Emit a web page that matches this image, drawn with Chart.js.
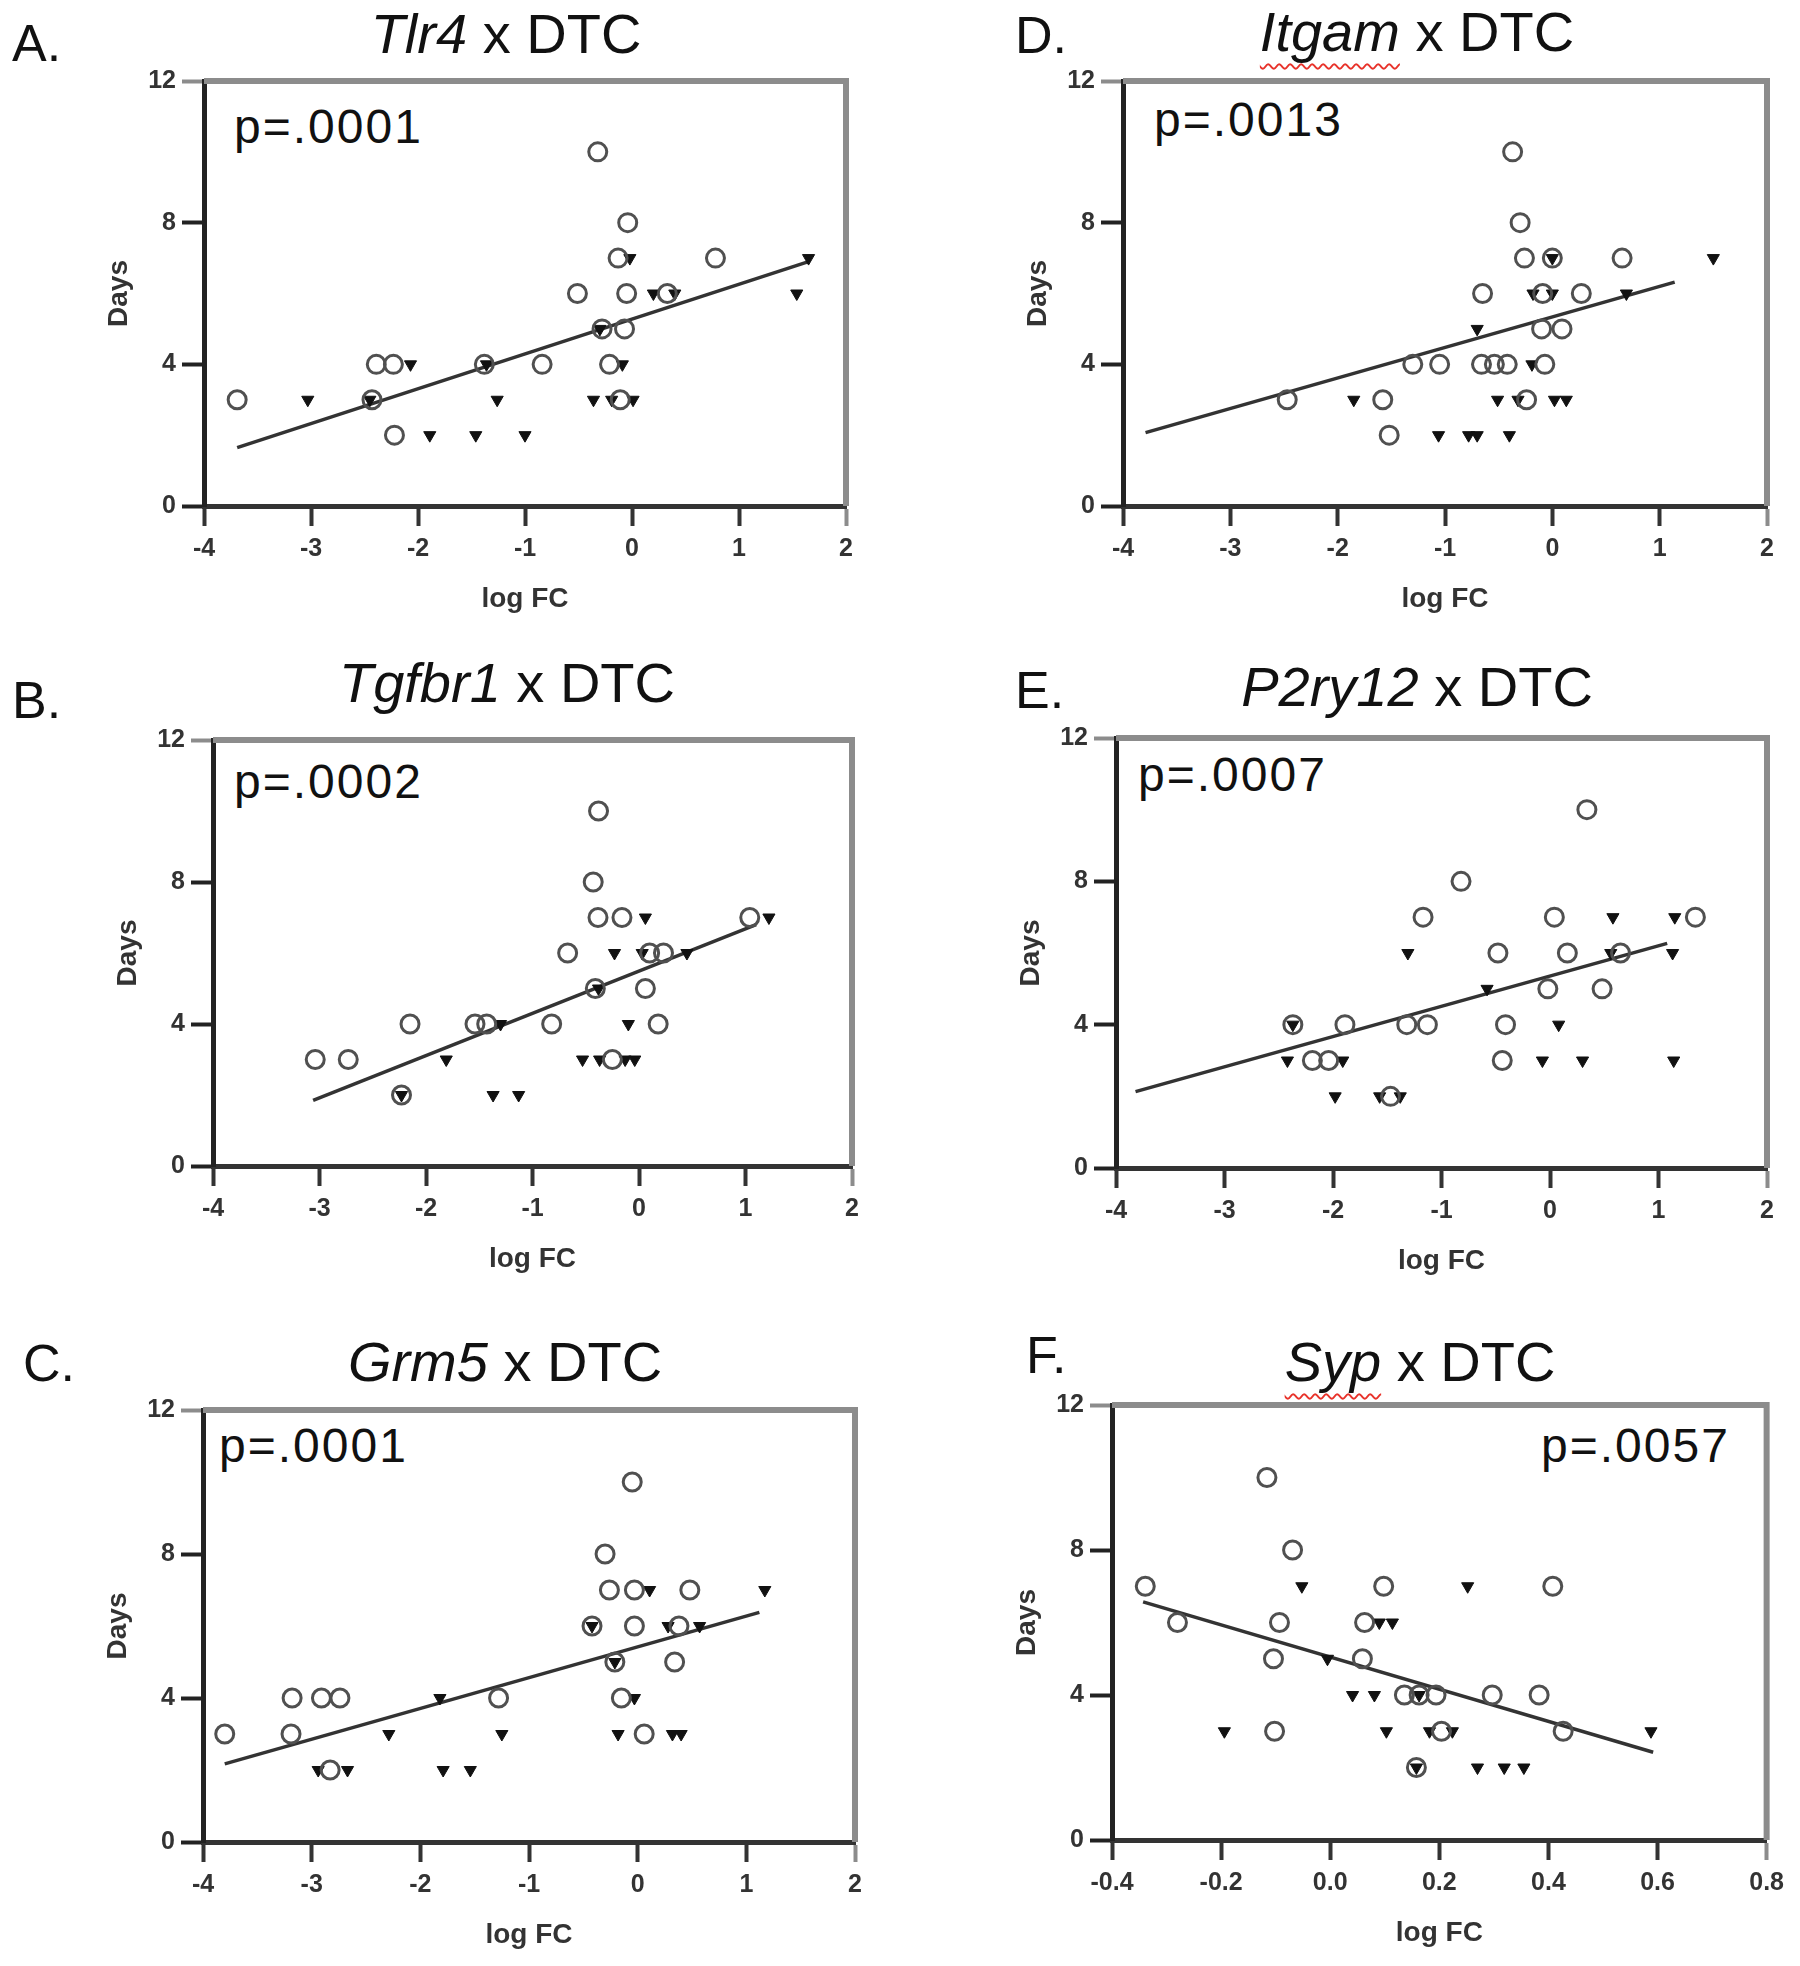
<!DOCTYPE html>
<html>
<head>
<meta charset="utf-8">
<script src="https://cdn.jsdelivr.net/npm/chart.js@4.4.1/dist/chart.umd.min.js"></script>
<style>
  body { margin: 0; background: #fff; width: 1800px; height: 1966px; position: relative; overflow: hidden; font-family: "Liberation Sans", Arial, sans-serif; color: #111; }
  .panel { position: absolute; }
  .letter { position: absolute; font-size: 52px; line-height: 52px; white-space: nowrap; }
  .title { position: absolute; width: 800px; text-align: center; font-size: 56px; line-height: 56px; white-space: nowrap; }
  .pval { position: absolute; font-size: 48px; line-height: 48px; letter-spacing: 2px; white-space: nowrap; }
  .spell { text-decoration: underline wavy #e8322a; text-decoration-thickness: 2px; text-underline-offset: 12px; }
</style>
</head>
<body>

<div class="letter" style="left:12px; top:17px;">A.</div>
<div class="title" style="left:106px; top:6px;"><i>Tlr4</i> x DTC</div>
<div class="pval" style="left:234px; top:103px;">p=.0001</div>

<div class="letter" style="left:12px; top:674px;">B.</div>
<div class="title" style="left:107px; top:655px;"><i>Tgfbr1</i> x DTC</div>
<div class="pval" style="left:234px; top:758px;">p=.0002</div>

<div class="letter" style="left:23px; top:1337px;">C.</div>
<div class="title" style="left:105px; top:1334px;"><i>Grm5</i> x DTC</div>
<div class="pval" style="left:219px; top:1422px;">p=.0001</div>

<div class="letter" style="left:1015px; top:9px;">D.</div>
<div class="title" style="left:1017px; top:4px;"><i class="spell">Itgam</i> x DTC</div>
<div class="pval" style="left:1154px; top:96px;">p=.0013</div>

<div class="letter" style="left:1015px; top:664px;">E.</div>
<div class="title" style="left:1017px; top:659px;"><i>P2ry12</i> x DTC</div>
<div class="pval" style="left:1138px; top:751px;">p=.0007</div>

<div class="letter" style="left:1026px; top:1329px;">F.</div>
<div class="title" style="left:1020px; top:1334px;"><i class="spell">Syp</i> x DTC</div>
<div class="pval" style="left:1541px; top:1422px;">p=.0057</div>

<canvas id="chartA" class="panel"></canvas>
<canvas id="chartB" class="panel"></canvas>
<canvas id="chartC" class="panel"></canvas>
<canvas id="chartD" class="panel"></canvas>
<canvas id="chartE" class="panel"></canvas>
<canvas id="chartF" class="panel"></canvas>

<script>
// ticks compartidos
var daysTicks = [0, 4, 8, 12];
var logFcTicks = [-4, -3, -2, -1, 0, 1, 2];
var logFcTickLabels = ['-4', '-3', '-2', '-1', '0', '1', '2'];
var sypTicks = [-0.4, -0.2, 0.0, 0.2, 0.4, 0.6, 0.8];
var sypTickLabels = ['-0.4', '-0.2', '0.0', '0.2', '0.4', '0.6', '0.8'];

// A. Tlr4
var tlr4CircleX = [-3.69, -2.43, -2.39, -2.23, -2.22, -1.38, -0.84, -0.51, -0.32, -0.28, -0.07, -0.21, -0.11, -0.13, -0.04, -0.05, 0.33, 0.78];
var tlr4CircleY = [3, 3, 4, 4, 2, 4, 4, 6, 10, 5, 5, 4, 3, 7, 8, 6, 6, 7];
var tlr4TriX = [-3.03, -2.45, -2.07, -1.89, -1.46, -1.00, -1.36, -1.26, -0.36, -0.19, 0.01, -0.09, -0.30, -0.02, 0.20, 0.40, 1.65, 1.54];
var tlr4TriY = [3, 3, 4, 2, 2, 2, 4, 3, 3, 3, 3, 4, 5, 7, 6, 6, 7, 6];
var tlr4FitX = [-3.69, 1.65];
var tlr4FitY = [1.65, 6.9];

// B. Tgfbr1
var tgfbr1CircleX = [-3.04, -2.73, -2.15, -2.23, -1.54, -1.43, -0.82, -0.67, -0.38, -0.43, -0.385, -0.16, 0.10, 0.23, -0.41, 0.06, 0.18, -0.25, 1.04];
var tgfbr1CircleY = [3, 3, 4, 2, 4, 4, 4, 6, 10, 8, 7, 7, 6, 6, 5, 5, 4, 3, 7];
var tgfbr1TriX = [-2.23, -1.81, -1.37, -1.13, -1.30, 0.06, -0.23, 0.03, 0.45, -0.38, -0.10, -0.53, -0.37, -0.13, -0.04, 1.22];
var tgfbr1TriY = [2, 3, 2, 2, 4, 7, 6, 6, 6, 5, 4, 3, 3, 3, 3, 7];
var tgfbr1FitX = [-3.06, 1.1];
var tgfbr1FitY = [1.85, 6.8];

// C. Grm5
var grm5CircleX = [-3.80, -3.19, -3.18, -2.91, -2.74, -2.83, -1.28, -0.42, -0.30, -0.05, -0.26, -0.03, 0.48, -0.03, 0.38, -0.21, 0.34, -0.15, 0.06];
var grm5CircleY = [3, 3, 4, 4, 4, 2, 4, 6, 8, 10, 7, 7, 7, 6, 6, 5, 5, 4, 3];
var grm5TriX = [-2.94, -2.67, -2.29, -1.82, -1.79, -1.54, -1.25, -0.42, 0.11, 1.17, 0.28, 0.57, -0.21, -0.03, -0.18, 0.32, 0.40];
var grm5TriY = [2, 2, 3, 4, 2, 2, 3, 6, 7, 7, 6, 6, 5, 4, 3, 3, 3];
var grm5FitX = [-3.80, 1.12];
var grm5FitY = [2.17, 6.38];

// D. Itgam
var itgamCircleX = [-2.47, -1.58, -1.52, -1.30, -1.05, -0.66, -0.54, -0.42, -0.07, -0.65, -0.09, 0.27, -0.37, -0.30, -0.26, 0.0, 0.65, -0.10, 0.09, -0.24];
var itgamCircleY = [3, 3, 2, 4, 4, 4, 4, 4, 4, 6, 6, 6, 10, 8, 7, 7, 7, 5, 5, 3];
var itgamTriX = [-1.85, -1.06, -0.78, -0.70, -0.40, -0.70, -0.51, -0.32, 0.02, 0.13, -0.19, -0.18, 0.0, 0.69, 0.0, 1.5];
var itgamTriY = [3, 2, 2, 2, 2, 5, 3, 3, 3, 3, 4, 6, 6, 6, 7, 7];
var itgamFitX = [-3.79, 1.14];
var itgamFitY = [2.07, 6.32];

// E. P2ry12
var p2ry12CircleX = [-2.37, -1.89, -2.19, -2.04, -1.47, -1.32, -1.13, -1.17, -0.82, -0.48, -0.41, -0.44, -0.02, 0.04, 0.16, 0.34, 0.48, 0.65, 1.34];
var p2ry12CircleY = [4, 4, 3, 3, 2, 4, 4, 7, 8, 6, 4, 3, 5, 7, 6, 10, 5, 6, 7];
var p2ry12TriX = [-2.37, -2.42, -1.91, -1.98, -1.57, -1.38, -1.31, -0.58, -0.07, 0.30, 0.08, 0.58, 0.56, 1.13, 1.14, 1.15];
var p2ry12TriY = [4, 3, 3, 2, 2, 2, 6, 5, 3, 3, 4, 7, 6, 6, 3, 7];
var p2ry12FitX = [-3.82, 1.08];
var p2ry12FitY = [2.13, 6.27];

// F. Syp
var sypCircleX = [-0.339, -0.28, -0.116, -0.069, -0.093, -0.104, -0.102, 0.059, 0.063, 0.098, 0.136, 0.163, 0.194, 0.158, 0.204, 0.297, 0.383, 0.408, 0.427];
var sypCircleY = [7, 6, 10, 8, 6, 5, 3, 5, 6, 7, 4, 4, 4, 2, 3, 4, 4, 7, 3];
var sypTriX = [-0.194, -0.052, -0.005, 0.041, 0.081, 0.090, 0.114, 0.103, 0.163, 0.182, 0.224, 0.252, 0.158, 0.27, 0.319, 0.355, 0.588];
var sypTriY = [3, 7, 5, 4, 4, 6, 6, 3, 4, 3, 3, 7, 2, 2, 2, 2, 3];
var sypFitX = [-0.343, 0.592];
var sypFitY = [6.57, 2.42];

// tamaños del eje (en px)
var Y_AXIS_W = 102;
var X_AXIS_H = 110;
var PAD_TOP = 16;
var PAD_RIGHT = 24;

function toPoints(xs, ys) {
    return xs.map(function (x, i) { return { x: x, y: ys[i] }; });
}

// marco gris arriba y a la derecha
var frameBox = {
    id: 'frameBox',
    beforeDatasetsDraw: function (chart) {
        var a = chart.chartArea;
        var ctx = chart.ctx;
        ctx.save();
        ctx.strokeStyle = '#8c8c8c';
        ctx.lineWidth = 6;
        ctx.beginPath();
        ctx.moveTo(a.left, a.top);
        ctx.lineTo(a.right, a.top);
        ctx.lineTo(a.right, a.bottom);
        ctx.stroke();
        ctx.restore();
    }
};

function makePanel(id, box, circleX, circleY, triX, triY, fitX, fitY, xTicks, xTickLabels) {
    var canvas = document.getElementById(id);
    var w = box.right - box.left;
    var h = box.bottom - box.top;
    canvas.width = w + Y_AXIS_W + PAD_RIGHT;
    canvas.height = h + PAD_TOP + X_AXIS_H;
    canvas.style.left = (box.left - Y_AXIS_W) + 'px';
    canvas.style.top = (box.top - PAD_TOP) + 'px';

    var xMin = xTicks[0];
    var xMax = xTicks[xTicks.length - 1];
    var yMax = daysTicks[daysTicks.length - 1];

    return new Chart(canvas.getContext('2d'), {
        type: 'scatter',
        data: {
            datasets: [{
                data: toPoints(circleX, circleY),
                pointStyle: 'circle',
                pointRadius: 9,
                pointBorderWidth: 3,
                borderColor: '#505050',
                backgroundColor: 'rgba(0,0,0,0)',
                clip: false
            }, {
                data: toPoints(triX, triY),
                pointStyle: 'triangle',
                pointRotation: 180,
                pointRadius: 7,
                pointBorderWidth: 1,
                borderColor: '#111',
                backgroundColor: '#111',
                clip: false
            }, {
                type: 'line',
                data: toPoints(fitX, fitY),
                borderColor: '#333',
                borderWidth: 3.5,
                pointRadius: 0,
                fill: false,
                clip: false
            }]
        },
        options: {
            responsive: false,
            animation: false,
            devicePixelRatio: 1,
            layout: { padding: { top: PAD_TOP, right: PAD_RIGHT, left: 0, bottom: 0 } },
            plugins: {
                legend: { display: false },
                tooltip: { enabled: false }
            },
            scales: {
                x: {
                    type: 'linear',
                    min: xMin,
                    max: xMax,
                    afterBuildTicks: function (axis) {
                        axis.ticks = xTicks.map(function (v) { return { value: v }; });
                    },
                    afterFit: function (scale) { scale.height = X_AXIS_H; },
                    ticks: {
                        autoSkip: false,
                        maxRotation: 0,
                        padding: 8,
                        color: '#333',
                        font: { family: 'Liberation Sans', size: 25, weight: 'bold' },
                        callback: function (v, i) { return xTickLabels[i]; }
                    },
                    grid: {
                        drawOnChartArea: false,
                        drawTicks: true,
                        tickLength: 20,
                        tickWidth: 4,
                        color: function (c) { return c.tick && c.tick.value === xMax ? '#8c8c8c' : '#333'; }
                    },
                    border: { display: true, color: '#333', width: 5 },
                    title: {
                        display: true,
                        text: 'log FC',
                        color: '#333',
                        padding: { top: 0, bottom: 0 },
                        font: { family: 'Liberation Sans', size: 28, weight: 'bold' }
                    }
                },
                y: {
                    type: 'linear',
                    min: 0,
                    max: yMax,
                    afterBuildTicks: function (axis) {
                        axis.ticks = daysTicks.map(function (v) { return { value: v }; });
                    },
                    afterFit: function (scale) { scale.width = Y_AXIS_W; },
                    ticks: {
                        padding: 6,
                        color: '#333',
                        font: { family: 'Liberation Sans', size: 25, weight: 'bold' }
                    },
                    grid: {
                        drawOnChartArea: false,
                        drawTicks: true,
                        tickLength: 22,
                        tickWidth: 4,
                        color: function (c) { return c.tick && c.tick.value === yMax ? '#8c8c8c' : '#222'; }
                    },
                    border: { display: true, color: '#222', width: 5 },
                    title: {
                        display: true,
                        text: 'Days',
                        color: '#333',
                        padding: { top: 0, bottom: 0 },
                        font: { family: 'Liberation Sans', size: 28, weight: 'bold' }
                    }
                }
            }
        },
        plugins: [frameBox]
    });
}

makePanel('chartA', { left: 204, right: 846, top: 76, bottom: 506 }, tlr4CircleX, tlr4CircleY, tlr4TriX, tlr4TriY, tlr4FitX, tlr4FitY, logFcTicks, logFcTickLabels);
makePanel('chartB', { left: 213, right: 852, top: 735, bottom: 1166 }, tgfbr1CircleX, tgfbr1CircleY, tgfbr1TriX, tgfbr1TriY, tgfbr1FitX, tgfbr1FitY, logFcTicks, logFcTickLabels);
makePanel('chartC', { left: 203, right: 855, top: 1405, bottom: 1842 }, grm5CircleX, grm5CircleY, grm5TriX, grm5TriY, grm5FitX, grm5FitY, logFcTicks, logFcTickLabels);
makePanel('chartD', { left: 1123, right: 1767, top: 76, bottom: 506 }, itgamCircleX, itgamCircleY, itgamTriX, itgamTriY, itgamFitX, itgamFitY, logFcTicks, logFcTickLabels);
makePanel('chartE', { left: 1116, right: 1767, top: 733, bottom: 1168 }, p2ry12CircleX, p2ry12CircleY, p2ry12TriX, p2ry12TriY, p2ry12FitX, p2ry12FitY, logFcTicks, logFcTickLabels);
makePanel('chartF', { left: 1112, right: 1768, top: 1400, bottom: 1840 }, sypCircleX, sypCircleY, sypTriX, sypTriY, sypFitX, sypFitY, sypTicks, sypTickLabels);
</script>
</body>
</html>
